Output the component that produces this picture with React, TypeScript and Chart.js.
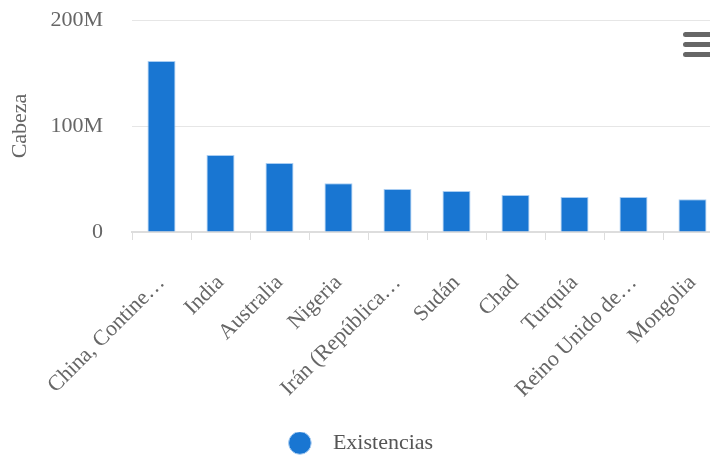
import React, { useEffect, useRef } from "react";
import { Chart, registerables } from "chart.js";

Chart.register(...registerables);

const categories = [
  "China, Contine…",
  "India",
  "Australia",
  "Nigeria",
  "Irán (República…",
  "Sudán",
  "Chad",
  "Turquía",
  "Reino Unido de…",
  "Mongolia",
];
const seriesName = "Existencias";
const existencias = [161.3e6, 72.6e6, 65e6, 46e6, 40.6e6, 38.7e6, 35e6, 33e6, 33e6, 31e6];
const yTicks = [0, 100e6, 200e6];
const yTitle = "Cabeza";

const FONT = "'Liberation Serif', 'Times New Roman', serif";

export default function App() {
  const ref = useRef<HTMLCanvasElement | null>(null);
  useEffect(() => {
    if (!ref.current) return;
    const chart = new Chart(ref.current, {
      type: "bar",
      data: {
        labels: categories,
        datasets: [
          {
            label: seriesName,
            data: existencias,
            backgroundColor: "#1976d2",
            borderColor: "#a9cdf2",
            borderWidth: 1,
            barPercentage: 0.95,
            categoryPercentage: 0.5,
          },
        ],
      },
      options: {
        responsive: false,
        animation: false,
        layout: { padding: { top: 20, left: 0, right: 0, bottom: 0 } },
        plugins: {
          tooltip: { enabled: false },
          legend: {
            position: "bottom",
            labels: {
              usePointStyle: true,
              pointStyle: "circle",
              boxWidth: 22,
              boxHeight: 16,
              color: "#555",
              font: { family: FONT, size: 22 },
              padding: 0,
              generateLabels: (c: any) => {
                const items = Chart.defaults.plugins.legend.labels.generateLabels(c);
                items.forEach((it: any) => {
                  it.text = "  " + it.text;
                });
                return items;
              },
            },
          },
        },
        scales: {
          x: {
            grid: {
              drawOnChartArea: false,
              tickLength: 8,
              color: "#dddddd",
            },
            border: { color: "#dddddd", width: 2 },
            ticks: {
              color: "#666",
              font: { family: FONT, size: 22 },
              minRotation: 45,
              maxRotation: 45,
              autoSkip: false,
              padding: 30,
            },
            afterFit: (s: any) => {
              s.height = 200;
              s.paddingTop = 0;
              s.paddingBottom = 0;
              s.paddingLeft = 0;
              s.paddingRight = 0;
            },
          },
          y: {
            min: 0,
            max: 200e6,
            afterBuildTicks: (s: any) => {
              s.ticks = yTicks.map((v) => ({ value: v }));
            },
            grid: { color: "#e6e6e6", drawTicks: false },
            border: { display: false },
            ticks: {
              color: "#666",
              padding: 29,
              font: { family: FONT, size: 22 },
              callback: (v: any) => (v === 0 ? "0" : v / 1e6 + "M"),
            },
            title: {
              display: true,
              text: yTitle,
              color: "#666",
              font: { family: FONT, size: 22 },
              padding: { top: 7, bottom: 4 },
            },
            afterFit: (s: any) => {
              s.width = 132;
              s.paddingTop = 0;
              s.paddingBottom = 0;
            },
          },
        },
      },
    });
    return () => chart.destroy();
  }, []);

  const bar = (top: number) => (
    <div
      style={{
        position: "absolute",
        left: 683,
        top,
        width: 34,
        height: 5,
        borderRadius: 3,
        background: "#666",
      }}
    />
  );

  return (
    <div
      style={{
        position: "fixed",
        left: 0,
        top: 0,
        width: 710,
        height: 459,
        overflow: "hidden",
        background: "#fff",
      }}
    >
      <canvas ref={ref} width={722} height={464} style={{ position: "absolute", left: 0, top: 0 }} />
      {bar(32)}
      {bar(42)}
      {bar(52)}
    </div>
  );
}
